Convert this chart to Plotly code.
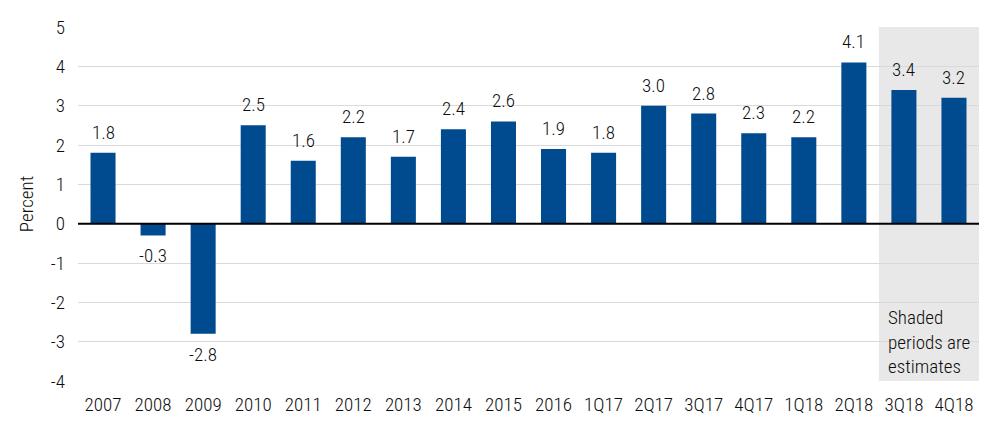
import plotly.graph_objects as go

categories = ["2007", "2008", "2009", "2010", "2011", "2012", "2013", "2014", "2015",
              "2016", "1Q17", "2Q17", "3Q17", "4Q17", "1Q18", "2Q18", "3Q18", "4Q18"]
values = [1.8, -0.3, -2.8, 2.5, 1.6, 2.2, 1.7, 2.4, 2.6, 1.9, 1.8, 3.0, 2.8, 2.3, 2.2, 4.1, 3.4, 3.2]
shaded = ["3Q18", "4Q18"]
y_ticks = [-4, -3, -2, -1, 0, 1, 2, 3, 4, 5]

FONT = "Roboto Condensed, Liberation Sans Narrow, sans-serif"
TXT = "#0d0d0d"
BAR = "#004a8f"
FS = 19
W = 300

def f():
    return dict(family=FONT, size=FS, color=TXT, weight=W)

fig = go.Figure()
fig.add_trace(go.Bar(
    x=categories, y=values, marker=dict(color=BAR, line=dict(width=0)),
    width=0.5, hoverinfo="x+y",
))

for i, v in enumerate(values):
    fig.add_annotation(x=i, y=v, xref="x", yref="y", text=f"{v:.1f}", showarrow=False,
                       yanchor="bottom" if v >= 0 else "top",
                       yshift=7 if v >= 0 else -7,
                       font=f())

idx0 = categories.index(shaded[0])
fig.add_shape(type="rect", xref="x", yref="y",
              x0=idx0 - 0.5, x1=len(categories) - 0.5, y0=-4, y1=5,
              fillcolor="#e8e8e8", line=dict(width=0), layer="below")
fig.add_shape(type="line", xref="paper", yref="y", x0=0, x1=1, y0=0, y1=0,
              line=dict(color="black", width=2))

fig.add_annotation(x=idx0 - 0.5, y=-2.04, xref="x", yref="y",
                   text="Shaded<br>periods are<br>estimates", showarrow=False,
                   xanchor="left", yanchor="top", align="left", xshift=7,
                   font=f())

# page body has an 8px margin; compensate so the plot lands where the reference has it
fig.update_layout(
    width=992, height=428,
    margin=dict(l=70, r=21, t=19, b=55),
    plot_bgcolor="white", paper_bgcolor="white",
    showlegend=False, bargap=0.5,
    font=f(),
)
fig.update_xaxes(type="category", showgrid=False, showline=False, ticks="",
                 tickfont=f(),
                 ticklabelstandoff=10, automargin=False,
                 range=[-0.5, len(categories) - 0.5])
fig.update_yaxes(range=[-4, 5], tickvals=y_ticks, ticktext=[str(t) for t in y_ticks],
                 showgrid=True, gridcolor="#d9d9d9",
                 gridwidth=1, zeroline=False, showline=False, ticks="",
                 tickfont=f(),
                 ticklabelstandoff=12, automargin=False,
                 title=dict(text="Percent", font=f(), standoff=12))

fig.write_html("out.html")
